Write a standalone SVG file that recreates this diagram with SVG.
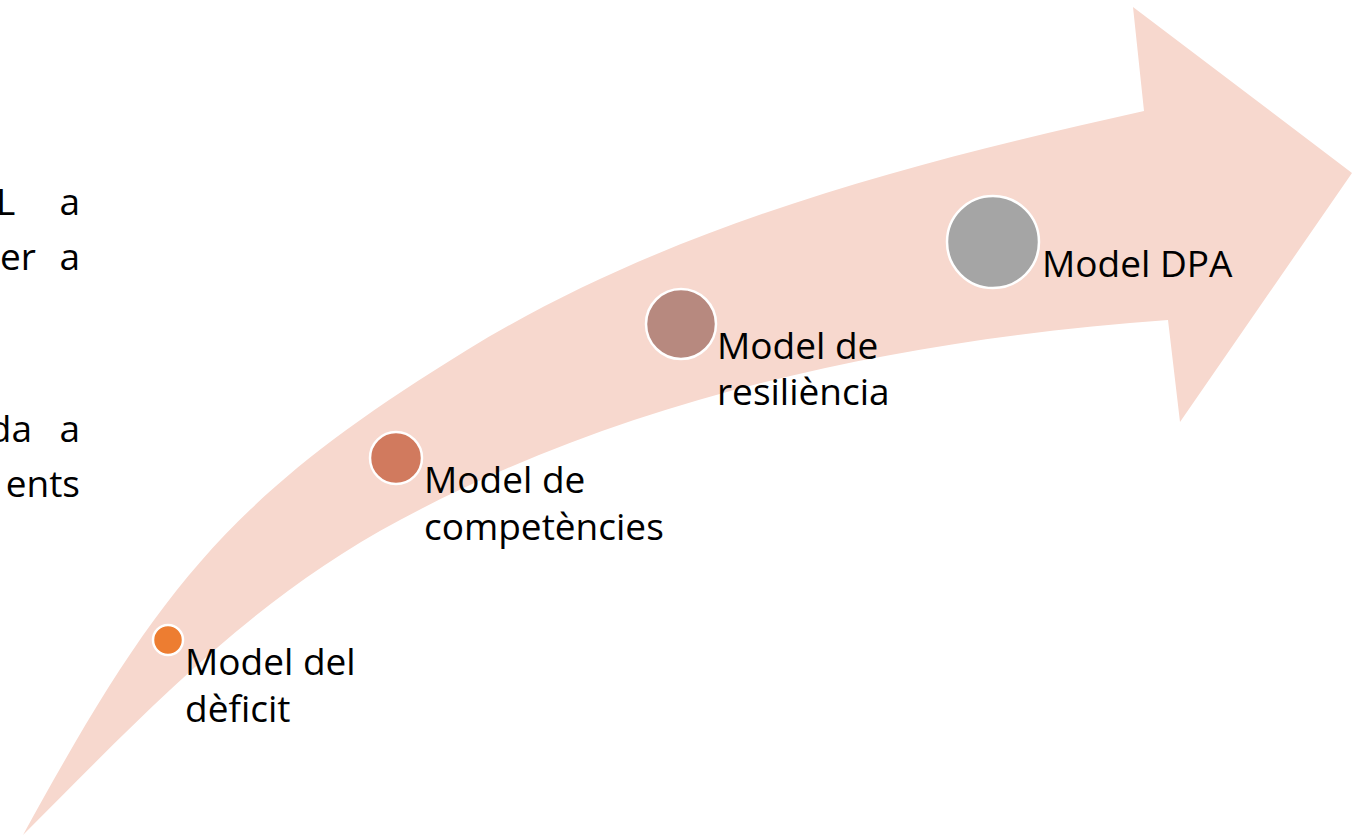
<svg xmlns="http://www.w3.org/2000/svg" width="1365" height="836" viewBox="0 0 1365 836">
  <style>
    .band { fill: #F7D8CE; stroke: none; }
    .dot { stroke: #FFFFFF; stroke-width: 2.5; }
    .label { font-family: "Open Sans", "Noto Sans", "Liberation Sans", sans-serif; font-size: 37px; fill: #000000; }
  </style>
  <rect x="0" y="0" width="1365" height="836" fill="#FFFFFF"/>

  <!-- clipped body text running off the left edge -->
  <g id="side-text" class="label">
    <text x="-4" y="215">L</text>
    <text x="80" y="215" text-anchor="end">a</text>
    <text x="0" y="270">er</text>
    <text x="80" y="270" text-anchor="end">a</text>
    <text x="32" y="442" text-anchor="end">da</text>
    <text x="80" y="442" text-anchor="end">a</text>
    <text x="80" y="497" text-anchor="end">ents</text>
  </g>

  <!-- rising curved arrow -->
  <g id="connectors">
    <path id="rising-arrow" class="band" d="M23,835 C158,589 229,496 467,350 C671,225 910,163 1144,111 L1133,7 L1352,173 L1180,422 L1168,320 C904,339 633,395 400,520 C250,600 143,715 23,835 Z"/>
  </g>

  <g id="node-deficit">
    <circle class="dot" cx="168" cy="640" r="15" fill="#ED7D31"/>
    <text class="label" x="185" y="675">Model del</text>
    <text class="label" x="185" y="722">dèficit</text>
  </g>

  <g id="node-competencies">
    <circle class="dot" cx="396" cy="458" r="26" fill="#D17A5E"/>
    <text class="label" x="424" y="493">Model de</text>
    <text class="label" x="424" y="540">competències</text>
  </g>

  <g id="node-resiliencia">
    <circle class="dot" cx="681" cy="324" r="35" fill="#B7897F"/>
    <text class="label" x="717" y="359">Model de</text>
    <text class="label" x="717" y="405">resiliència</text>
  </g>

  <g id="node-dpa">
    <circle class="dot" cx="993" cy="242" r="46" fill="#A5A5A5"/>
    <text class="label" x="1042" y="277">Model DPA</text>
  </g>
</svg>
